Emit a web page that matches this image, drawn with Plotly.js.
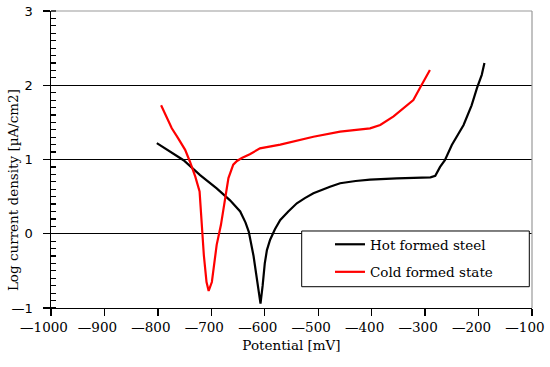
<!DOCTYPE html>
<html>
<head>
<meta charset="utf-8">
<script src="https://cdn.plot.ly/plotly-3.0.1.min.js"></script>
<style>html,body{margin:0;padding:0;background:#fff;}#chart{width:550px;height:367px;}</style>
</head>
<body>
<div id="chart"></div>
<script>
// Hot formed steel
var hotPotential = [-802, -777, -752, -721, -690, -665, -646, -636, -630, -621, -616, -612, -608, -604, -600, -596, -590, -581, -571, -556, -540, -525, -509, -478, -459, -430, -403, -353, -310, -290, -281, -272, -263, -250, -228, -213, -203, -194, -189];
var hotLogI = [1.22, 1.105, 0.99, 0.79, 0.61, 0.45, 0.30, 0.15, 0.03, -0.30, -0.55, -0.78, -0.94, -0.70, -0.40, -0.22, -0.08, 0.06, 0.185, 0.30, 0.41, 0.48, 0.545, 0.634, 0.68, 0.71, 0.73, 0.745, 0.75, 0.76, 0.78, 0.90, 0.99, 1.195, 1.465, 1.73, 1.96, 2.14, 2.30];
// Cold formed state
var coldPotential = [-794, -783, -774, -762, -749, -740, -730, -722, -718, -714, -709, -705, -699, -690, -682, -674, -668, -659, -652, -643, -628, -609, -571, -509, -459, -403, -384, -359, -341, -322, -310, -291];
var coldLogI = [1.73, 1.555, 1.42, 1.285, 1.13, 0.97, 0.77, 0.57, 0.16, -0.29, -0.65, -0.77, -0.65, -0.15, 0.12, 0.48, 0.75, 0.93, 0.98, 1.02, 1.07, 1.15, 1.20, 1.307, 1.375, 1.42, 1.465, 1.58, 1.69, 1.80, 1.96, 2.205];

var xTickVals = [-1000, -900, -800, -700, -600, -500, -400, -300, -200, -100];
var xTickText = ['—1000', '—900', '—800', '—700', '—600', '—500', '—400', '—300', '—200', '—100'];
var yMinusAlias = {'\u22121': '—1'};

var serif = 'DejaVu Serif, serif';
var sans = 'DejaVu Sans, Verdana, sans-serif';

var traces = [
  {x: hotPotential, y: hotLogI, mode: 'lines', name: 'Hot formed steel', legendgroup: 'a',
   line: {color: '#000000', width: 2.2}},
  {x: coldPotential, y: coldLogI, mode: 'lines', name: 'Cold formed state', legendgroup: 'b',
   line: {color: '#ff0000', width: 2.2}}
];

var layout = {
  width: 550, height: 367,
  margin: {l: 51, r: 18, t: 11, b: 59},
  paper_bgcolor: '#ffffff', plot_bgcolor: '#ffffff',
  showlegend: true,
  xaxis: {
    range: [-1000, -100], tickmode: 'array', tickvals: xTickVals, ticktext: xTickText,
    showline: true, linecolor: '#000', linewidth: 1, showgrid: false, zeroline: false,
    ticks: 'outside', ticklen: 7, tickcolor: '#000', tickwidth: 1.3,
    ticklabeloverflow: 'allow', ticklabelshift: -7,
    tickfont: {family: serif, size: 13.5, color: '#000'},
    title: {text: 'Potential [mV]', font: {family: serif, size: 13.5, color: '#000'}, standoff: 6}
  },
  yaxis: {
    range: [-1, 3], tickmode: 'linear', tick0: -1, dtick: 1, labelalias: yMinusAlias,
    showline: true, linecolor: '#000', linewidth: 1.5,
    showgrid: true, gridcolor: '#000', gridwidth: 1, zeroline: false,
    ticks: 'outside', ticklen: 7, tickcolor: '#000', tickwidth: 1.3,
    ticklabelstandoff: 7,
    tickfont: {family: sans, size: 13, color: '#000'},
    minor: {tickmode: 'linear', tick0: -1, dtick: 0.1, ticks: 'inside', ticklen: 5, tickcolor: '#000', tickwidth: 1.2}
  },
  annotations: [
    {text: 'Log current density [µA/cm2]', textangle: -90, xref: 'paper', yref: 'paper',
     x: -0.079, y: 0.397, xanchor: 'center', yanchor: 'middle', showarrow: false,
     font: {family: serif, size: 13.5, color: '#000'}}
  ],
  legend: {
    x: 0.580, y: 0.266, xanchor: 'left', yanchor: 'top',
    bgcolor: 'rgba(0,0,0,0)', borderwidth: 0,
    font: {family: serif, size: 13.5, color: '#000'},
    traceorder: 'grouped', tracegroupgap: 7
  },
  shapes: [
    {type: 'line', xref: 'paper', yref: 'paper', x0: 0, x1: 1, y0: 1, y1: 1, line: {color: '#999', width: 1.2}},
    {type: 'line', xref: 'paper', yref: 'paper', x0: 1, x1: 1, y0: 0, y1: 1, line: {color: '#999', width: 1.2}},
    {type: 'rect', xref: 'paper', yref: 'paper', x0: 0.5212, x1: 0.9944, y0: 0.0717, y1: 0.2593,
     line: {color: '#000', width: 1}, fillcolor: '#ffffff', layer: 'above'}
  ]
};

Plotly.newPlot('chart', traces, layout, {displayModeBar: false, staticPlot: true});
</script>
</body>
</html>
